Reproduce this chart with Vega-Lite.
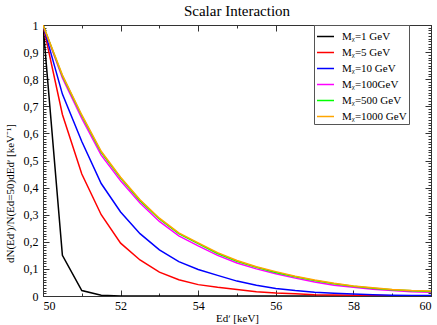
{
  "$schema": "https://vega.github.io/schema/vega-lite/v6.json",
  "width": 388,
  "height": 271,
  "autosize": {"type": "none"},
  "padding": {"left": 43, "top": 25, "right": 6, "bottom": 29},
  "title": {"text": "Scalar Interaction", "font": "Liberation Serif", "fontSize": 15, "fontWeight": "normal", "color": "#000", "offset": 6, "dy": 6},
  "datasets": {
    "curves": [
      {"E": 50, "v": 1, "s": "Mᵪ=1 GeV"}, {"E": 50.5, "v": 0.15, "s": "Mᵪ=1 GeV"}, {"E": 51, "v": 0.02, "s": "Mᵪ=1 GeV"}, {"E": 51.5, "v": 0.003, "s": "Mᵪ=1 GeV"}, {"E": 52, "v": 0, "s": "Mᵪ=1 GeV"}, {"E": 54, "v": 0, "s": "Mᵪ=1 GeV"}, {"E": 56, "v": 0, "s": "Mᵪ=1 GeV"}, {"E": 58, "v": 0, "s": "Mᵪ=1 GeV"}, {"E": 60, "v": 0, "s": "Mᵪ=1 GeV"},
      {"E": 50, "v": 1, "s": "Mᵪ=5 GeV"}, {"E": 50.5, "v": 0.67, "s": "Mᵪ=5 GeV"}, {"E": 51, "v": 0.45, "s": "Mᵪ=5 GeV"}, {"E": 51.5, "v": 0.3, "s": "Mᵪ=5 GeV"}, {"E": 52, "v": 0.195, "s": "Mᵪ=5 GeV"}, {"E": 52.5, "v": 0.133, "s": "Mᵪ=5 GeV"}, {"E": 53, "v": 0.088, "s": "Mᵪ=5 GeV"}, {"E": 53.5, "v": 0.06, "s": "Mᵪ=5 GeV"}, {"E": 54, "v": 0.042, "s": "Mᵪ=5 GeV"}, {"E": 54.5, "v": 0.032, "s": "Mᵪ=5 GeV"}, {"E": 55, "v": 0.024, "s": "Mᵪ=5 GeV"}, {"E": 55.5, "v": 0.016, "s": "Mᵪ=5 GeV"}, {"E": 56, "v": 0.011, "s": "Mᵪ=5 GeV"}, {"E": 56.5, "v": 0.008, "s": "Mᵪ=5 GeV"}, {"E": 57, "v": 0.005, "s": "Mᵪ=5 GeV"}, {"E": 57.5, "v": 0.004, "s": "Mᵪ=5 GeV"}, {"E": 58, "v": 0.003, "s": "Mᵪ=5 GeV"}, {"E": 58.5, "v": 0.002, "s": "Mᵪ=5 GeV"}, {"E": 59, "v": 0.001, "s": "Mᵪ=5 GeV"}, {"E": 59.3, "v": 0.001, "s": "Mᵪ=5 GeV"},
      {"E": 50, "v": 1, "s": "Mᵪ=10 GeV"}, {"E": 50.5, "v": 0.745, "s": "Mᵪ=10 GeV"}, {"E": 51, "v": 0.57, "s": "Mᵪ=10 GeV"}, {"E": 51.5, "v": 0.415, "s": "Mᵪ=10 GeV"}, {"E": 52, "v": 0.31, "s": "Mᵪ=10 GeV"}, {"E": 52.5, "v": 0.23, "s": "Mᵪ=10 GeV"}, {"E": 53, "v": 0.17, "s": "Mᵪ=10 GeV"}, {"E": 53.5, "v": 0.127, "s": "Mᵪ=10 GeV"}, {"E": 54, "v": 0.098, "s": "Mᵪ=10 GeV"}, {"E": 54.5, "v": 0.076, "s": "Mᵪ=10 GeV"}, {"E": 55, "v": 0.055, "s": "Mᵪ=10 GeV"}, {"E": 55.5, "v": 0.04, "s": "Mᵪ=10 GeV"}, {"E": 56, "v": 0.028, "s": "Mᵪ=10 GeV"}, {"E": 56.5, "v": 0.02, "s": "Mᵪ=10 GeV"}, {"E": 57, "v": 0.014, "s": "Mᵪ=10 GeV"}, {"E": 57.5, "v": 0.01, "s": "Mᵪ=10 GeV"}, {"E": 58, "v": 0.007, "s": "Mᵪ=10 GeV"}, {"E": 58.5, "v": 0.005, "s": "Mᵪ=10 GeV"}, {"E": 59, "v": 0.003, "s": "Mᵪ=10 GeV"}, {"E": 59.5, "v": 0.002, "s": "Mᵪ=10 GeV"}, {"E": 60, "v": 0.0015, "s": "Mᵪ=10 GeV"},
      {"E": 50, "v": 1, "s": "Mᵪ=100GeV"}, {"E": 50.5, "v": 0.805, "s": "Mᵪ=100GeV"}, {"E": 51, "v": 0.655, "s": "Mᵪ=100GeV"}, {"E": 51.5, "v": 0.52, "s": "Mᵪ=100GeV"}, {"E": 52, "v": 0.425, "s": "Mᵪ=100GeV"}, {"E": 52.5, "v": 0.343, "s": "Mᵪ=100GeV"}, {"E": 53, "v": 0.275, "s": "Mᵪ=100GeV"}, {"E": 53.5, "v": 0.222, "s": "Mᵪ=100GeV"}, {"E": 54, "v": 0.185, "s": "Mᵪ=100GeV"}, {"E": 54.5, "v": 0.15, "s": "Mᵪ=100GeV"}, {"E": 55, "v": 0.122, "s": "Mᵪ=100GeV"}, {"E": 55.5, "v": 0.1, "s": "Mᵪ=100GeV"}, {"E": 56, "v": 0.082, "s": "Mᵪ=100GeV"}, {"E": 56.5, "v": 0.066, "s": "Mᵪ=100GeV"}, {"E": 57, "v": 0.052, "s": "Mᵪ=100GeV"}, {"E": 57.5, "v": 0.04, "s": "Mᵪ=100GeV"}, {"E": 58, "v": 0.032, "s": "Mᵪ=100GeV"}, {"E": 58.5, "v": 0.025, "s": "Mᵪ=100GeV"}, {"E": 59, "v": 0.02, "s": "Mᵪ=100GeV"}, {"E": 59.5, "v": 0.016, "s": "Mᵪ=100GeV"}, {"E": 60, "v": 0.014, "s": "Mᵪ=100GeV"},
      {"E": 50, "v": 1, "s": "Mᵪ=500 GeV"}, {"E": 50.5, "v": 0.812, "s": "Mᵪ=500 GeV"}, {"E": 51, "v": 0.665, "s": "Mᵪ=500 GeV"}, {"E": 51.5, "v": 0.53, "s": "Mᵪ=500 GeV"}, {"E": 52, "v": 0.435, "s": "Mᵪ=500 GeV"}, {"E": 52.5, "v": 0.352, "s": "Mᵪ=500 GeV"}, {"E": 53, "v": 0.284, "s": "Mᵪ=500 GeV"}, {"E": 53.5, "v": 0.23, "s": "Mᵪ=500 GeV"}, {"E": 54, "v": 0.193, "s": "Mᵪ=500 GeV"}, {"E": 54.5, "v": 0.157, "s": "Mᵪ=500 GeV"}, {"E": 55, "v": 0.128, "s": "Mᵪ=500 GeV"}, {"E": 55.5, "v": 0.106, "s": "Mᵪ=500 GeV"}, {"E": 56, "v": 0.087, "s": "Mᵪ=500 GeV"}, {"E": 56.5, "v": 0.071, "s": "Mᵪ=500 GeV"}, {"E": 57, "v": 0.057, "s": "Mᵪ=500 GeV"}, {"E": 57.5, "v": 0.045, "s": "Mᵪ=500 GeV"}, {"E": 58, "v": 0.036, "s": "Mᵪ=500 GeV"}, {"E": 58.5, "v": 0.029, "s": "Mᵪ=500 GeV"}, {"E": 59, "v": 0.023, "s": "Mᵪ=500 GeV"}, {"E": 59.5, "v": 0.019, "s": "Mᵪ=500 GeV"}, {"E": 60, "v": 0.017, "s": "Mᵪ=500 GeV"},
      {"E": 50, "v": 1, "s": "Mᵪ=1000 GeV"}, {"E": 50.5, "v": 0.815, "s": "Mᵪ=1000 GeV"}, {"E": 51, "v": 0.668, "s": "Mᵪ=1000 GeV"}, {"E": 51.5, "v": 0.534, "s": "Mᵪ=1000 GeV"}, {"E": 52, "v": 0.438, "s": "Mᵪ=1000 GeV"}, {"E": 52.5, "v": 0.355, "s": "Mᵪ=1000 GeV"}, {"E": 53, "v": 0.287, "s": "Mᵪ=1000 GeV"}, {"E": 53.5, "v": 0.233, "s": "Mᵪ=1000 GeV"}, {"E": 54, "v": 0.196, "s": "Mᵪ=1000 GeV"}, {"E": 54.5, "v": 0.16, "s": "Mᵪ=1000 GeV"}, {"E": 55, "v": 0.131, "s": "Mᵪ=1000 GeV"}, {"E": 55.5, "v": 0.108, "s": "Mᵪ=1000 GeV"}, {"E": 56, "v": 0.09, "s": "Mᵪ=1000 GeV"}, {"E": 56.5, "v": 0.073, "s": "Mᵪ=1000 GeV"}, {"E": 57, "v": 0.059, "s": "Mᵪ=1000 GeV"}, {"E": 57.5, "v": 0.047, "s": "Mᵪ=1000 GeV"}, {"E": 58, "v": 0.037, "s": "Mᵪ=1000 GeV"}, {"E": 58.5, "v": 0.03, "s": "Mᵪ=1000 GeV"}, {"E": 59, "v": 0.024, "s": "Mᵪ=1000 GeV"}, {"E": 59.5, "v": 0.02, "s": "Mᵪ=1000 GeV"}, {"E": 60, "v": 0.018, "s": "Mᵪ=1000 GeV"}
    ],
    "anchor": [{"E": 50, "v": 0}]
  },
  "layer": [
    {
      "data": {"name": "curves"},
      "mark": {"type": "line", "strokeWidth": 1.5, "clip": true},
      "encoding": {
        "x": {"field": "E", "type": "quantitative", "scale": {"domain": [50, 60], "nice": false, "zero": false},
          "axis": {"orient": "bottom", "values": [50, 52, 54, 56, 58, 60], "tickSize": -6, "labelPadding": 10, "format": "d", "title": "Edʹ [keV]", "titlePadding": 1}},
        "y": {"field": "v", "type": "quantitative", "scale": {"domain": [0, 1], "nice": false},
          "axis": {"orient": "left", "values": [0, 0.1, 0.2, 0.3, 0.4, 0.5, 0.6, 0.7, 0.8, 0.9, 1], "tickSize": -6, "labelPadding": 11,
            "labelExpr": "datum.value == 0 ? '0' : datum.value == 1 ? '1' : replace(format(datum.value, '.1f'), '.', ',')",
            "title": "dN(Edʹ)/N(Ed=50)dEdʹ  [keV⁻¹]", "titleX": -33, "titleY": 168, "titleAngle": -90, "titleAlign": "center", "titleBaseline": "middle"}},
        "color": {"field": "s", "type": "nominal",
          "scale": {"domain": ["Mᵪ=1 GeV", "Mᵪ=5 GeV", "Mᵪ=10 GeV", "Mᵪ=100GeV", "Mᵪ=500 GeV", "Mᵪ=1000 GeV"], "range": ["#000000", "#ff0000", "#0000ff", "#ff00ff", "#00ff00", "#ffa500"]},
          "legend": {"title": null, "orient": "none", "legendX": 271, "legendY": 0, "symbolType": "stroke", "symbolSize": 289, "symbolStrokeWidth": 1.5,
            "labelFont": "Liberation Serif", "labelFontSize": 11, "labelColor": "#000", "labelOffset": 7, "rowPadding": 1,
            "padding": 2, "strokeColor": "#555", "fillColor": "#fff"}}
      }
    },
    {
      "data": {"name": "anchor"},
      "mark": {"type": "point", "opacity": 0},
      "encoding": {
        "x": {"field": "E", "type": "quantitative", "axis": {"orient": "bottom", "tickCount": 10, "tickSize": -3, "labels": false, "title": null}},
        "y": {"field": "v", "type": "quantitative", "axis": {"orient": "left", "tickCount": 100, "tickSize": -3, "labels": false, "title": null}}
      }
    },
    {
      "data": {"name": "anchor"},
      "mark": {"type": "point", "opacity": 0},
      "encoding": {
        "x": {"field": "E", "type": "quantitative", "axis": {"orient": "top", "values": [50, 52, 54, 56, 58, 60], "tickSize": -6, "labels": false, "title": null}},
        "y": {"field": "v", "type": "quantitative", "axis": {"orient": "right", "values": [0, 0.1, 0.2, 0.3, 0.4, 0.5, 0.6, 0.7, 0.8, 0.9, 1], "tickSize": -6, "labels": false, "title": null}}
      }
    },
    {
      "data": {"name": "anchor"},
      "mark": {"type": "point", "opacity": 0},
      "encoding": {
        "x": {"field": "E", "type": "quantitative", "axis": {"orient": "top", "tickCount": 10, "tickSize": -3, "labels": false, "title": null}},
        "y": {"field": "v", "type": "quantitative", "axis": {"orient": "right", "tickCount": 100, "tickSize": -3, "labels": false, "title": null}}
      }
    }
  ],
  "resolve": {"axis": {"x": "independent", "y": "independent"}},
  "config": {
    "view": {"stroke": "#333", "strokeWidth": 1},
    "font": "Liberation Serif",
    "axis": {"domain": false, "grid": false, "tickColor": "#333", "tickWidth": 1, "labelFont": "Liberation Serif", "labelFontSize": 12, "labelColor": "#000",
      "titleFont": "Liberation Serif", "titleFontSize": 11, "titleFontWeight": "normal", "titleColor": "#000", "labelOverlap": false}
  }
}
